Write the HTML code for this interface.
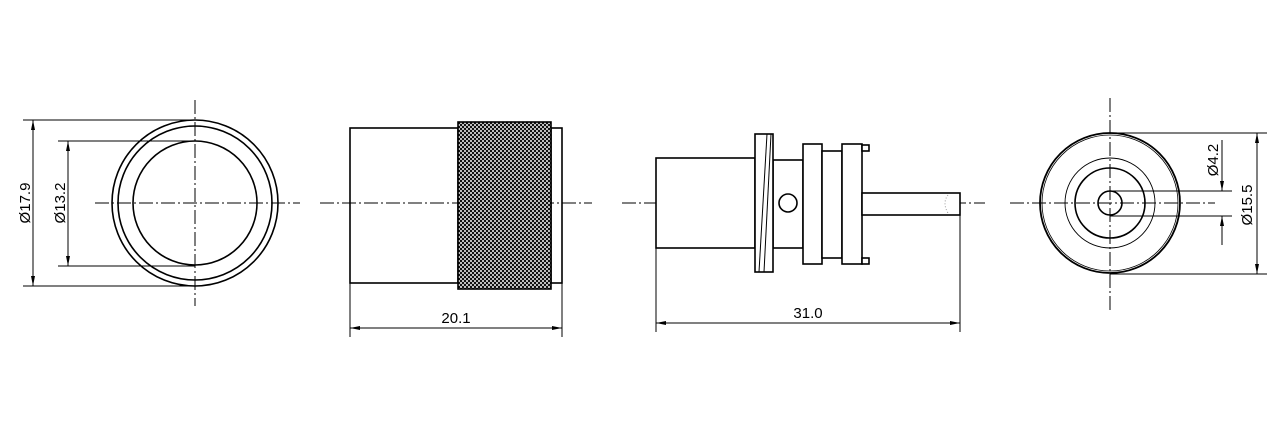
<!DOCTYPE html>
<html><head><meta charset="utf-8"><style>
html,body{margin:0;padding:0;background:#fff;}
svg{display:block;}
text{font-family:"Liberation Sans",sans-serif;font-size:15px;fill:#000;}
</style></head><body>
<svg width="1280" height="428" viewBox="0 0 1280 428" xmlns="http://www.w3.org/2000/svg">
<defs>
<pattern id="k" width="4" height="4" patternUnits="userSpaceOnUse">
<rect width="4" height="4" fill="#bdbdbd"/>
<rect width="2" height="2" fill="#111"/>
<rect x="2" y="2" width="2" height="2" fill="#111"/>
</pattern>
<marker id="a" viewBox="0 0 10 4" refX="10" refY="2" markerWidth="10" markerHeight="4" orient="auto-start-reverse" markerUnits="userSpaceOnUse">
<path d="M0,0 L10,2 L0,4 z" fill="#000"/>
</marker>
</defs>
<g stroke="#000" fill="none" stroke-width="1" stroke-dasharray="14,3,2,3">
<line x1="95" y1="203" x2="300" y2="203"/>
<line x1="195" y1="100" x2="195" y2="306"/>
<line x1="320" y1="203" x2="592" y2="203"/>
<line x1="622" y1="203" x2="985" y2="203"/>
<line x1="1010" y1="203" x2="1215" y2="203"/>
<line x1="1110" y1="98" x2="1110" y2="310"/>
</g>
<g stroke="#000" fill="none" stroke-width="1.6">
<circle cx="195" cy="203" r="83"/>
<circle cx="195" cy="203" r="77"/>
<circle cx="195" cy="203" r="62"/>
</g>
<g stroke="#000" stroke-width="1">
<line x1="23" y1="120" x2="195" y2="120"/>
<line x1="23" y1="286" x2="195" y2="286"/>
<line x1="58" y1="141" x2="195" y2="141"/>
<line x1="58" y1="266" x2="195" y2="266"/>
<line x1="33" y1="120" x2="33" y2="286" marker-start="url(#a)" marker-end="url(#a)"/>
<line x1="68" y1="141" x2="68" y2="266" marker-start="url(#a)" marker-end="url(#a)"/>
</g>
<text transform="translate(30,203) rotate(-90)" text-anchor="middle">Ø17.9</text>
<text transform="translate(65,203) rotate(-90)" text-anchor="middle">Ø13.2</text>
<g stroke="#000" stroke-width="1.6" fill="none">
<rect x="350" y="128" width="108" height="155"/>
<rect x="551" y="128" width="11" height="155"/>
<rect x="458" y="122" width="93" height="167" fill="url(#k)"/>
</g>
<g stroke="#000" stroke-width="1">
<line x1="350" y1="283" x2="350" y2="337"/>
<line x1="562" y1="283" x2="562" y2="337"/>
<line x1="350" y1="328" x2="562" y2="328" marker-start="url(#a)" marker-end="url(#a)"/>
</g>
<text x="456" y="323" text-anchor="middle">20.1</text>
<g stroke="#000" stroke-width="1.6" fill="#fff">
<rect x="656" y="158" width="99" height="90"/>
<rect x="773" y="160" width="30" height="88"/>
<rect x="755" y="134" width="18" height="138"/>
<rect x="803" y="144" width="19" height="120"/>
<rect x="822" y="151" width="20" height="107"/>
<rect x="842" y="144" width="20" height="120"/>
<rect x="862" y="145" width="7" height="6"/>
<rect x="862" y="258" width="7" height="6"/>
<rect x="862" y="193" width="98" height="22"/>
<circle cx="788" cy="203" r="9"/>
</g>
<g stroke="#000" stroke-width="1" fill="none">
<line x1="759" y1="272" x2="767" y2="134"/>
<line x1="764" y1="272" x2="771" y2="134"/>
<line x1="656" y1="248" x2="656" y2="332"/>
<line x1="960" y1="215" x2="960" y2="332"/>
<line x1="656" y1="323" x2="960" y2="323" marker-start="url(#a)" marker-end="url(#a)"/>
</g>
<path d="M948,195 q-6,8 0,18" stroke="#999" stroke-width="1" fill="none" stroke-dasharray="1,2"/>
<text x="808" y="318" text-anchor="middle">31.0</text>
<g stroke="#000" fill="none">
<circle cx="1110" cy="203" r="70" stroke-width="1.8"/>
<circle cx="1110" cy="203" r="68" stroke-width="0.8"/>
<circle cx="1110" cy="203" r="45" stroke-width="0.9"/>
<circle cx="1110" cy="203" r="35" stroke-width="1.6"/>
<circle cx="1110" cy="203" r="12" stroke-width="1.6"/>
</g>
<g stroke="#000" stroke-width="1">
<line x1="1110" y1="133" x2="1267" y2="133"/>
<line x1="1110" y1="274" x2="1267" y2="274"/>
<line x1="1110" y1="191" x2="1232" y2="191"/>
<line x1="1110" y1="216" x2="1232" y2="216"/>
<line x1="1257" y1="133" x2="1257" y2="274" marker-start="url(#a)" marker-end="url(#a)"/>
<line x1="1222" y1="140" x2="1222" y2="191" marker-end="url(#a)"/>
<line x1="1222" y1="245" x2="1222" y2="216" marker-end="url(#a)"/>
</g>
<text transform="translate(1218,160) rotate(-90)" text-anchor="middle">Ø4.2</text>
<text transform="translate(1252,205) rotate(-90)" text-anchor="middle">Ø15.5</text>
</svg>
</body></html>
